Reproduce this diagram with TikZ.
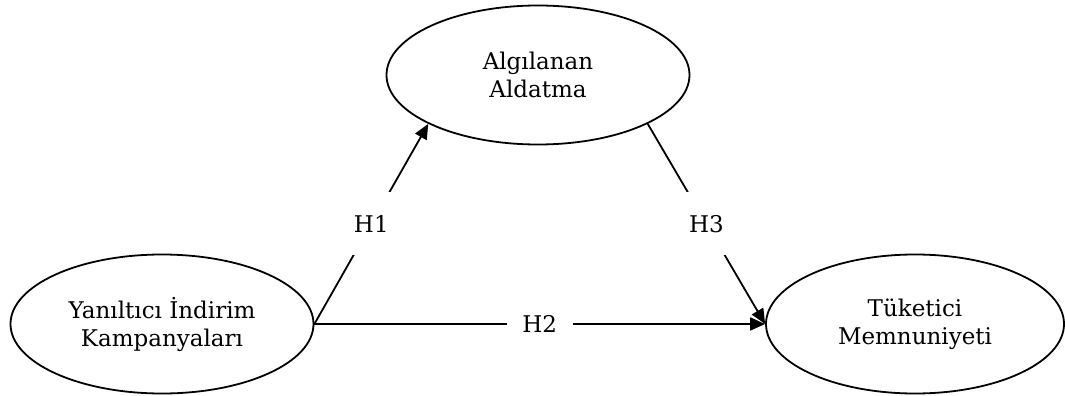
\documentclass[tikz,border=0pt]{standalone}
\usepackage{fontspec}
\setmainfont{DejaVu Serif}
\usetikzlibrary{shapes.geometric,arrows.meta}
\begin{document}
\begin{tikzpicture}[x=1pt,y=-1pt,
  construct/.style={draw,ellipse,line width=1.8pt,minimum width=303pt,minimum height=139pt,inner sep=0pt,align=center,font=\fontsize{23}{28}\selectfont},
  arr/.style={line width=1.8pt,-{Triangle[length=15pt,width=13pt]}},
  hlabel/.style={fill=white,inner sep=0pt,minimum width=66pt,minimum height=63pt,font=\fontsize{23}{28}\selectfont}]
\useasboundingbox (0,0) rectangle (1065,396);
\node[construct] (T) at (538,75) {Algılanan\\Aldatma};
\node[construct] (L) at (162,324) {Yanıltıcı İndirim\\Kampanyaları};
\node[construct,minimum width=298pt] (R) at (915,324) {Tüketici\\Memnuniyeti};
\draw[arr] (L.east) -- node[hlabel] (h1) {H1} (T.204);
\draw[arr] (T.336) -- node[hlabel] (h3) {H3} (R.west);
\draw[arr] (L.east) -- node[hlabel] (h2) {H2} (R.west);
\end{tikzpicture}
\end{document}
